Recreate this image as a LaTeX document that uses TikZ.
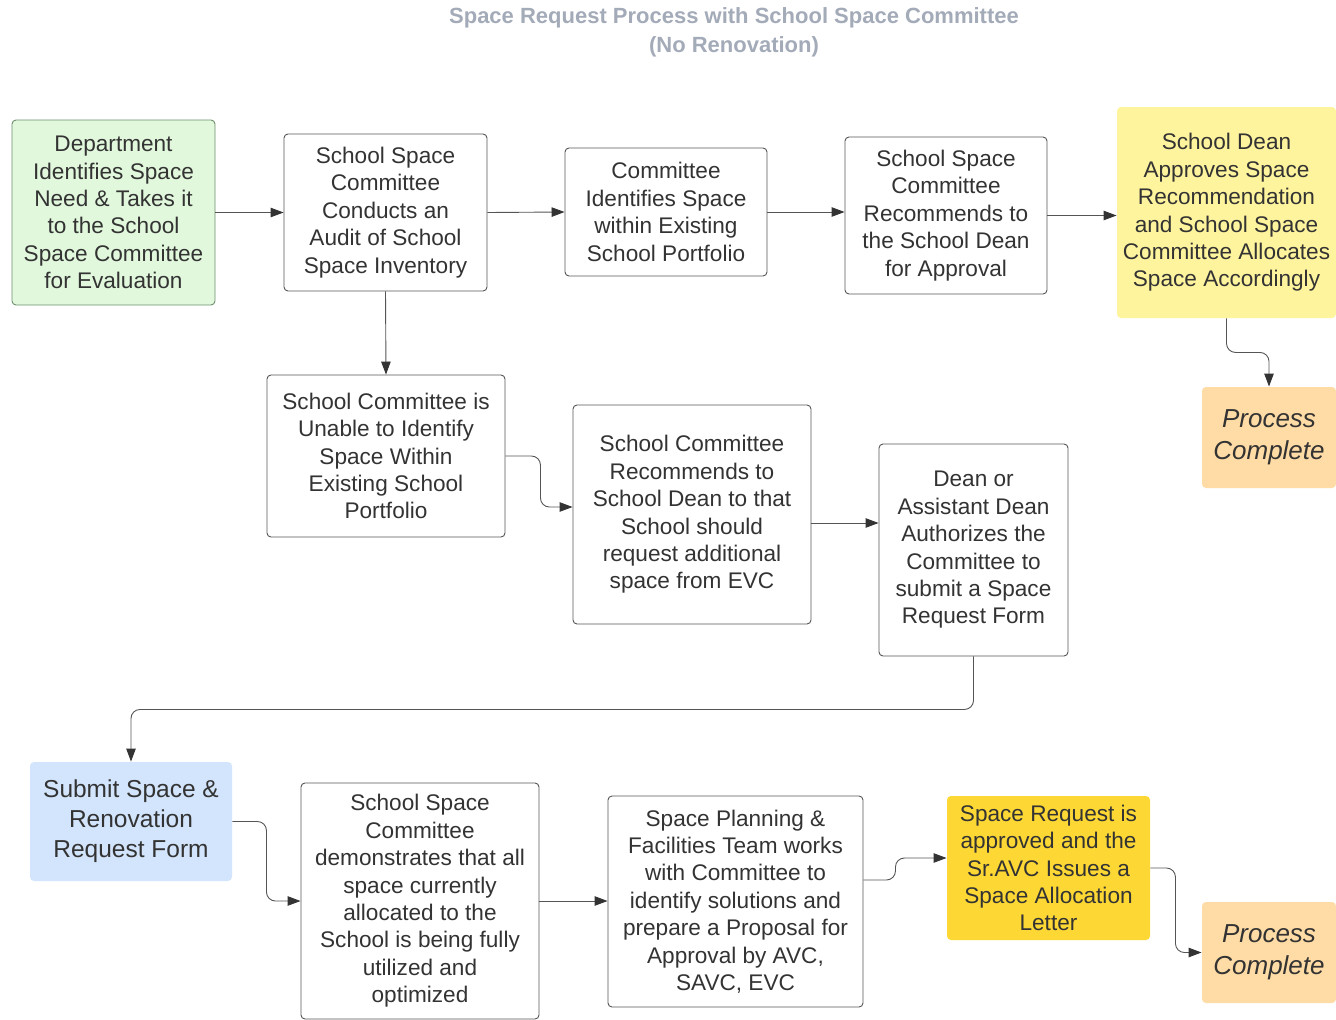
\documentclass[tikz,border=0pt]{standalone}
\usepackage{fontspec}
\setmainfont{Liberation Sans}
\usetikzlibrary{arrows.meta,calc}
\definecolor{txt}{HTML}{333333}
\definecolor{ln}{HTML}{555555}
\definecolor{titlec}{HTML}{A3AAB8}
\definecolor{greenf}{HTML}{E1F8DC}
\definecolor{greend}{HTML}{6E8F6E}
\definecolor{yelf}{HTML}{FFF49E}
\definecolor{goldf}{HTML}{FDD835}
\definecolor{orangef}{HTML}{FFDCA5}
\definecolor{bluef}{HTML}{D3E5FC}
\tikzset{
  box/.style={rounded corners=4pt, draw=ln, line width=0.9pt, fill=white, text=txt,
    align=center, inner sep=0pt, font=\fontsize{22.6}{27.4}\selectfont},
  plain/.style={box, draw=none},
  done/.style={plain, fill=orangef, font=\fontsize{26}{32}\selectfont\itshape,
    minimum width=134pt, minimum height=101pt},
  conn/.style={draw=ln, line width=0.9pt, rounded corners=9pt,
    -{Triangle[length=13pt,width=9.5pt,color=txt]}}
}
\begin{document}
\begin{tikzpicture}[x=1pt,y=-1pt]
\useasboundingbox (0,0) rectangle (1336,1020);
\node[text=titlec, align=center, font=\fontsize{22}{29}\selectfont\bfseries] (title) at (734,32)
  {Space Request Process with School Space Committee\\(No Renovation)};

\node[box, fill=greenf, draw=greend, minimum width=203pt, minimum height=185pt] (n1) at (113.5,212.5)
  {Department\\Identifies Space\\Need \& Takes it\\to the School\\Space Committee\\for Evaluation};
\node[box, minimum width=203pt, minimum height=157pt] (n2) at (385.5,212.5)
  {School Space\\Committee\\Conducts an\\Audit of School\\Space Inventory};
\node[box, minimum width=202pt, minimum height=128pt] (n3) at (666,212)
  {Committee\\Identifies Space\\within Existing\\School Portfolio};
\node[box, minimum width=202pt, minimum height=157pt] (n4) at (946,215.5)
  {School Space\\Committee\\Recommends to\\the School Dean\\for Approval};
\node[plain, fill=yelf, minimum width=219pt, minimum height=211pt] (n5) at (1226.5,212.5)
  {School Dean\\Approves Space\\Recommendation\\and School Space\\Committee Allocates\\Space Accordingly};
\node[done] (n6) at (1269,437.5) {Process\\Complete};

\node[box, minimum width=238pt, minimum height=162pt] (n7) at (386,456)
  {School Committee is\\Unable to Identify\\Space Within\\Existing School\\Portfolio};
\node[box, minimum width=238pt, minimum height=219pt] (n8) at (692,514.5)
  {School Committee\\Recommends to\\School Dean to that\\School should\\request additional\\space from EVC};
\node[box, minimum width=189pt, minimum height=212pt] (n9) at (973.5,550)
  {Dean or\\Assistant Dean\\Authorizes the\\Committee to\\submit a Space\\Request Form};

\node[plain, fill=bluef, font=\fontsize{24.5}{30}\selectfont, minimum width=202pt, minimum height=119pt] (n10) at (131,821.5)
  {Submit Space \&\\Renovation\\Request Form};
\node[box, minimum width=238pt, minimum height=236pt] (n11) at (420,901)
  {School Space\\Committee\\demonstrates that all\\space currently\\allocated to the\\School is being fully\\utilized and\\optimized};
\node[box, minimum width=255pt, minimum height=211pt] (n12) at (735.5,901.5)
  {Space Planning \&\\Facilities Team works\\with Committee to\\identify solutions and\\prepare a Proposal for\\Approval by AVC,\\SAVC, EVC};
\node[plain, fill=goldf, minimum width=203pt, minimum height=144pt] (n13) at (1048.5,868)
  {Space Request is\\approved and the\\Sr.AVC Issues a\\Space Allocation\\Letter};
\node[done] (n14) at (1269,952.5) {Process\\Complete};

\draw[conn] (n1.east) -- (n2.west);
\draw[conn] (n2.east) -- (n3.west);
\draw[conn] (n3.east) -- (n3.east -| n4.west);
\draw[conn] (n4.east) -- (n4.east -| n5.west);
\draw[conn] (n5.south) -- ++(0,34) -| (n6.north);
\draw[conn] (n2.south) -- (n7.north);
\draw[conn] (n7.east) -- ++(35,0) |- ([yshift=7.5pt]n8.west);
\draw[conn] ([yshift=-8.5pt]n8.east) -- ([yshift=-8.5pt]n8.east -| n9.west);
\draw[conn] (n9.south) -- ++(0,53) -| (n10.north);
\draw[conn] (n10.east) -- ++(34,0) |- (n11.west);
\draw[conn] (n11.east) -- (n11.east -| n12.west);
\draw[conn] ([yshift=21.5pt]n12.east) -- ++(32,0) |- ([yshift=10pt]n13.west);
\draw[conn] (n13.east) -- ++(25,0) |- (n14.west);
\end{tikzpicture}
\end{document}
